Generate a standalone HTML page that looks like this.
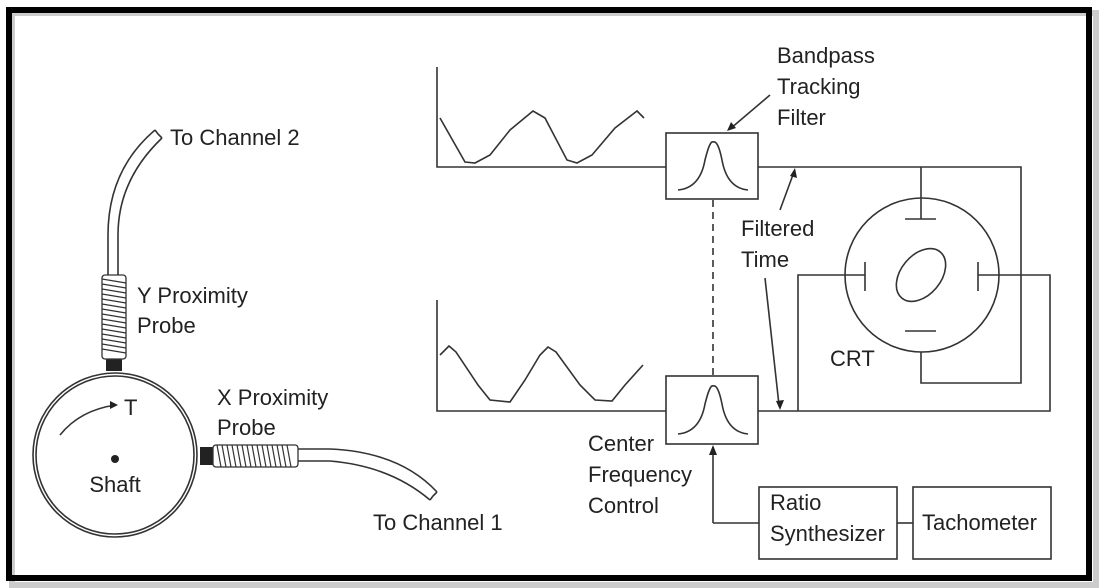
<!DOCTYPE html>
<html><head><meta charset="utf-8"><style>
html,body{margin:0;padding:0;background:#fff;}
svg{display:block;}
text{font-family:"Liberation Sans Narrow","Liberation Sans",sans-serif;font-size:22px;fill:#222;}
</style></head><body>
<svg width="1108" height="588" viewBox="0 0 1108 588" xmlns="http://www.w3.org/2000/svg">
<rect x="12" y="13" width="1084" height="572" fill="none" stroke="#ccc" stroke-width="6"/>
<rect x="9" y="10" width="1080" height="568" fill="none" stroke="#000" stroke-width="6"/>
<g fill="none" stroke="#333" stroke-width="1.6">
<!-- shaft -->
<circle cx="115" cy="455" r="82"/>
<circle cx="115" cy="455" r="79"/>
<path d="M60 435 Q80 410 116 405"/>
<!-- Y cable -->
<path d="M108 275 L108 235 Q108 170 155 130"/>
<path d="M118 275 L118 235 Q118 180 162 138"/>
<path d="M155 130 L158 134 L162 138"/>
<!-- X cable -->
<path d="M298 449 L330 449 Q400 452 437 492"/>
<path d="M298 461 L330 461 Q390 466 430 500"/>
<path d="M437 492 L433 496 L430 500"/>
<!-- waveforms -->
<path d="M437 67 L437 167 L666 167"/>
<path d="M440 118 L465 162 L475 163 L490 155 L510 130 L533 111 L545 118 L567 160 L577 163 L592 155 L615 128 L637 111 L644 118"/>
<path d="M437 300 L437 411 L666 411"/>
<path d="M440 355 L449 346 L456 352 L478 385 L490 400 L510 402 L525 380 L540 355 L548 347 L556 352 L580 385 L595 400 L612 401 L625 385 L643 365"/>
<!-- boxes -->
<rect x="666" y="133" width="92" height="66"/>
<rect x="666" y="376" width="92" height="68"/>
<path d="M678 190 Q700 188 705 160 Q710 140 713 142 Q718 140 722 160 Q727 188 748 190"/>
<path d="M678 434 Q700 432 705 404 Q710 384 713 386 Q718 384 722 404 Q727 432 748 434"/>
<path d="M713 200 L713 376" stroke-dasharray="7,5"/>
<path d="M758 167 L1021 167 L1021 383 L921 383 L921 352"/>
<path d="M921 167 L921 219 M905 219 L936 219 M905 331 L936 331"/>
<path d="M758 411 L1050 411 L1050 275 L978 275 M978 262 L978 291"/>
<path d="M865 262 L865 291 M865 275 L798 275 L798 411"/>
<circle cx="922" cy="275" r="77"/>
<ellipse cx="921" cy="275" rx="30" ry="20" transform="rotate(-50 921 275)"/>
<path d="M713 523 L713 447 M713 523 L759 523"/>
<rect x="759" y="487" width="138" height="72"/>
<rect x="913" y="487" width="138" height="72"/>
<path d="M897 523 L913 523"/>
<path d="M770 95 L730 129"/>
<path d="M780 210 L794 172"/>
<path d="M765 278 L779 405"/>
</g>
<g fill="#222">
<rect x="106" y="359" width="16" height="12"/>
<rect x="200" y="447" width="13" height="18"/>
<circle cx="115" cy="459" r="4"/>
<path d="M118 405 L110 401 L110 409Z"/>
<path d="M713 445 L709 455 L717 455Z"/>
<path d="M727 131 L736 128 L731 122Z"/>
<path d="M795 168 L797 178 L790 176Z"/>
<path d="M780 410 L776 401 L784 400Z"/>
</g>
<!-- threads -->
<g stroke="#333" stroke-width="1.3" fill="#fff">
<rect x="102" y="275" width="24" height="84" rx="3"/>
<rect x="213" y="445" width="85" height="22" rx="3"/>
</g>
<g stroke="#333" stroke-width="1.2">
<path d="M102 279 L126 283 M102 284 L126 288 M102 289 L126 293 M102 294 L126 298 M102 299 L126 303 M102 304 L126 308 M102 309 L126 313 M102 314 L126 318 M102 319 L126 323 M102 324 L126 328 M102 329 L126 333 M102 334 L126 338 M102 339 L126 343 M102 344 L126 348 M102 349 L126 353"/>
<path d="M217 445 L221 467 M222 445 L226 467 M227 445 L231 467 M232 445 L236 467 M237 445 L241 467 M242 445 L246 467 M247 445 L251 467 M252 445 L256 467 M257 445 L261 467 M262 445 L266 467 M267 445 L271 467 M272 445 L276 467 M277 445 L281 467 M282 445 L286 467 M287 445 L291 467"/>
</g>
<text x="170" y="145">To Channel 2</text>
<text x="137" y="303">Y Proximity</text>
<text x="137" y="333">Probe</text>
<text x="124" y="415">T</text>
<text x="217" y="405">X Proximity</text>
<text x="217" y="435">Probe</text>
<text x="115" y="492" text-anchor="middle">Shaft</text>
<text x="373" y="530">To Channel 1</text>
<text x="777" y="63">Bandpass</text>
<text x="777" y="94">Tracking</text>
<text x="777" y="125">Filter</text>
<text x="741" y="236">Filtered</text>
<text x="741" y="267">Time</text>
<text x="830" y="366">CRT</text>
<text x="588" y="451">Center</text>
<text x="588" y="482">Frequency</text>
<text x="588" y="513">Control</text>
<text x="770" y="510">Ratio</text>
<text x="770" y="541">Synthesizer</text>
<text x="922" y="530">Tachometer</text>
</svg>
</body></html>
